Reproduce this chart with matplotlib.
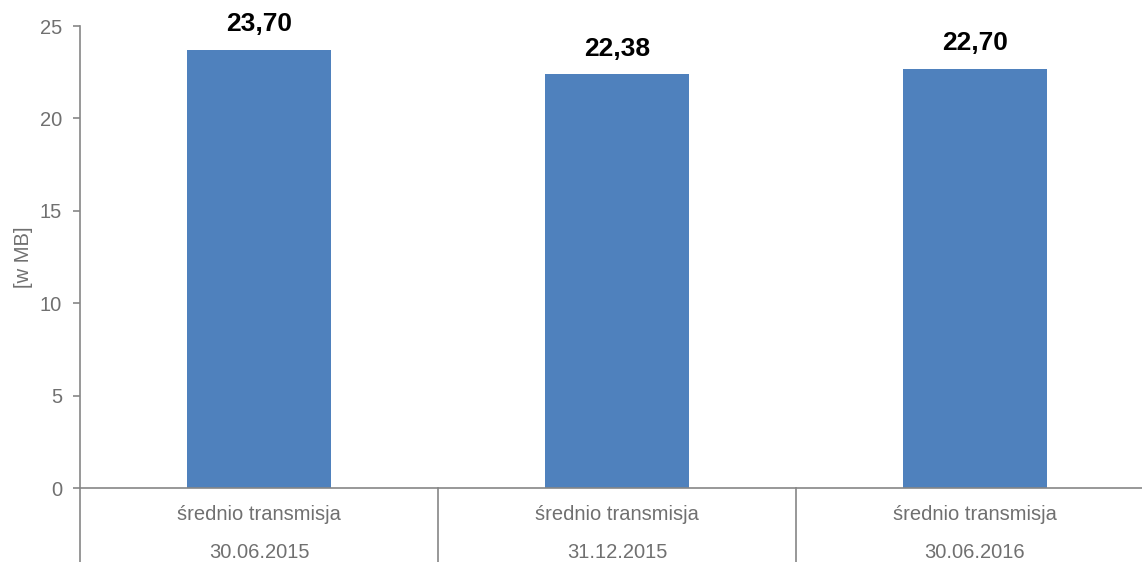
import matplotlib.pyplot as plt
from matplotlib import transforms

plt.rcParams['font.family'] = ['Liberation Sans', 'DejaVu Sans']

# chart data
categories = ['średnio transmisja', 'średnio transmisja', 'średnio transmisja']
dates = ['30.06.2015', '31.12.2015', '30.06.2016']
values = [23.70, 22.38, 22.70]
y_ticks = [0, 5, 10, 15, 20, 25]

BAR_COLOR = '#4F81BD'
AXIS_COLOR = '#868686'
TEXT_COLOR = '#707070'

W, H = 1142, 562
fig = plt.figure(figsize=(W / 100, H / 100), dpi=100)
# axes spans from the left spine to the right edge of the picture
ax = fig.add_axes([80 / W, (H - 488) / H, (W - 80) / W, (488 - 26) / H])

x = list(range(len(values)))
ax.bar(x, values, width=0.4, color=BAR_COLOR, zorder=2)

# each category slot is 358 px wide, the axes is 1062 px
ax.set_xlim(-0.5, -0.5 + (W - 80) / 358)
ax.set_ylim(0, 25)
ax.set_yticks(y_ticks)
ax.set_yticklabels([str(t) for t in y_ticks], fontsize=14.5, color=TEXT_COLOR)
ax.set_xticks([])

for s in ['top', 'right']:
    ax.spines[s].set_visible(False)
for s in ['left', 'bottom']:
    ax.spines[s].set_color(AXIS_COLOR)
    ax.spines[s].set_linewidth(1.2)
ax.tick_params(axis='y', length=5, color=AXIS_COLOR, width=1.2, pad=8)

ax.set_ylabel('[w MB]', fontsize=14.5, color=TEXT_COLOR, labelpad=5)

# value labels above bars, formatted with comma decimal
for xi, v in zip(x, values):
    ax.annotate(f'{v:.2f}'.replace('.', ','), (xi, v), xytext=(0, 10),
                textcoords='offset points', ha='center', va='bottom',
                fontsize=19, fontweight='bold', color='black')

# two-level category axis with separators
trans = transforms.blended_transform_factory(ax.transData, ax.transAxes)
px = 1 / (488 - 26)  # one pixel in axes fraction
for xi, (c, d) in enumerate(zip(categories, dates)):
    ax.text(xi, -27 * px, c, transform=trans, ha='center', va='center',
            fontsize=14.5, color=TEXT_COLOR)
    ax.text(xi, -65 * px, d, transform=trans, ha='center', va='center',
            fontsize=14.5, color=TEXT_COLOR)
for b in [-0.5, 0.5, 1.5, 2.5]:
    ax.plot([b, b], [0, -80 * px], transform=trans, color=AXIS_COLOR,
            lw=1.2, clip_on=False)

fig.savefig('out.png', dpi=100)
